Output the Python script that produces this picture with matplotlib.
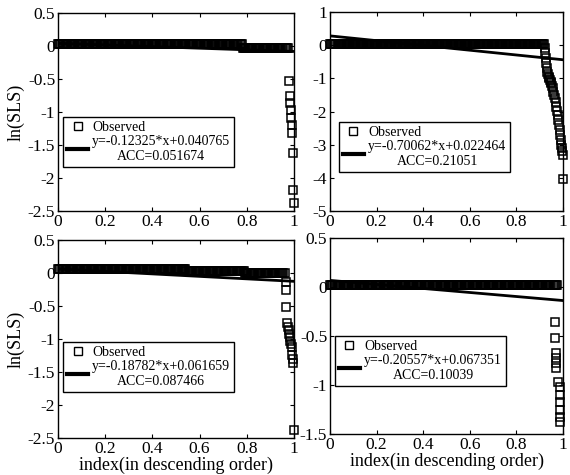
import numpy as np
import matplotlib
matplotlib.use("Agg")
import matplotlib.pyplot as plt
from matplotlib.lines import Line2D
from matplotlib.ticker import FormatStrFormatter

plt.rcParams['font.family'] = ['Liberation Serif', 'DejaVu Serif']
plt.rcParams['axes.unicode_minus'] = False

# ---------------- data ----------------
# top-left panel
tl_band = [0.03] * 160 + [-0.03] * 40
tl_band_end = 0.975
tl_tail_x = [0.978, 0.982, 0.984, 0.986, 0.988, 0.990, 0.992, 0.995, 0.996, 0.999]
tl_tail_y = [-0.53, -0.76, -0.86, -0.97, -1.09, -1.20, -1.32, -1.62, -2.18, -2.38]
tl_fit = (-0.12325, 0.040765)
tl_label = "y=-0.12325*x+0.040765\nACC=0.051674"

# top-right panel
tr_band = [0.05] * 200
tr_band_end = 0.92
tr_tail_x = [0.922, 0.924, 0.926, 0.928, 0.930, 0.932, 0.935, 0.938, 0.941, 0.944,
             0.947, 0.950, 0.953, 0.956, 0.959, 0.962, 0.965, 0.968, 0.971, 0.974,
             0.977, 0.980, 0.983, 0.986, 0.988, 0.990, 0.992, 0.994, 0.996, 0.998, 1.0]
tr_tail_y = [-0.10, -0.25, -0.40, -0.55, -0.68, -0.80, -0.88, -0.95, -1.00, -1.05,
             -1.10, -1.15, -1.22, -1.30, -1.40, -1.50, -1.60, -1.72, -1.85, -1.98,
             -2.10, -2.25, -2.40, -2.55, -2.70, -2.85, -3.00, -3.10, -3.20, -3.30, -4.05]
tr_line_ends = (0.28, -0.44)
tr_label = "y=-0.70062*x+0.022464\nACC=0.21051"

# bottom-left panel
bl_band = [0.06] * 110 + [0.03] * 50 + [0.0] * 35
bl_band_end = 0.96
bl_tail_x = [0.965, 0.966, 0.967, 0.972, 0.975, 0.978, 0.980, 0.982, 0.985, 0.987,
             0.990, 0.993, 0.995, 0.997, 0.998]
bl_tail_y = [-0.14, -0.26, -0.51, -0.76, -0.82, -0.87, -0.92, -0.97, -1.03, -1.08,
             -1.12, -1.24, -1.30, -1.36, -2.38]
bl_fit = (-0.18782, 0.061659)
bl_label = "y=-0.18782*x+0.061659\nACC=0.087466"

# bottom-right panel
br_band = [0.02] * 200
br_band_end = 0.975
br_tail_x = [0.967, 0.967, 0.970, 0.970, 0.970, 0.970, 0.980, 0.987, 0.987, 0.987,
             0.987, 0.987, 0.987]
br_tail_y = [-0.36, -0.52, -0.67, -0.72, -0.78, -0.83, -0.97, -1.02, -1.10, -1.17,
             -1.26, -1.33, -1.38]
br_fit = (-0.20557, 0.067351)
br_label = "y=-0.20557*x+0.067351\nACC=0.10039"

x_ticks = [0, 0.2, 0.4, 0.6, 0.8, 1]

# ---------------- figure ----------------
W, H = 570, 475
fig = plt.figure(figsize=(W / 100, H / 100), dpi=100)


def px_axes(left, top, right, bottom):
    return fig.add_axes([left / W, 1 - bottom / H, (right - left) / W, (bottom - top) / H])


def panel(ax, band, band_end, tail_x, tail_y, line_y, label, ylim, yticks, leg_pos, xlabel):
    bx = np.linspace(0, band_end, len(band))
    ox = np.concatenate([bx, tail_x])
    oy = np.concatenate([band, tail_y])
    ax.plot(ox, oy, linestyle='none', marker='s', markersize=5.6,
            markerfacecolor='none', markeredgecolor='black', markeredgewidth=1.1,
            clip_on=False, zorder=2)
    ax.plot([0, 1], line_y, color='black', lw=2.0, zorder=3)
    ax.set_xlim(0, 1)
    ax.set_ylim(*ylim)
    ax.set_xticks(x_ticks)
    ax.set_yticks(yticks)
    ax.xaxis.set_major_formatter(FormatStrFormatter('%g'))
    ax.yaxis.set_major_formatter(FormatStrFormatter('%g'))
    ax.tick_params(direction='in', length=3, width=0.8, labelsize=12.5,
                   top=True, right=True, pad=2)
    for s in ax.spines.values():
        s.set_linewidth(1.0)
    h1 = Line2D([], [], linestyle='none', marker='s', markersize=6,
                markerfacecolor='none', markeredgecolor='black', markeredgewidth=1.0)
    h2 = Line2D([], [], color='black', lw=3)
    leg = ax.legend([h1, h2], ['Observed', label], loc='upper left',
                    bbox_to_anchor=leg_pos, borderaxespad=0, fontsize=10,
                    frameon=True, fancybox=False, edgecolor='black', framealpha=1,
                    handlelength=1.5, handletextpad=0.3, borderpad=0.3,
                    labelspacing=0.05)
    leg.get_frame().set_linewidth(1.0)
    for t in leg.get_texts():
        t.set_multialignment('center')
    if xlabel:
        ax.set_xlabel('index(in descending order)', fontsize=13, labelpad=0)


ax1 = px_axes(58, 13, 294, 211)
ax2 = px_axes(330, 12, 563, 211)
ax3 = px_axes(58, 240, 294, 438)
ax4 = px_axes(330, 238, 563, 434)

panel(ax1, tl_band, tl_band_end, tl_tail_x, tl_tail_y,
      [tl_fit[1], tl_fit[0] + tl_fit[1]], tl_label,
      (-2.5, 0.5), np.arange(-2.5, 0.51, 0.5), (0.021, 0.475), False)
panel(ax2, tr_band, tr_band_end, tr_tail_x, tr_tail_y,
      list(tr_line_ends), tr_label,
      (-5, 1), np.arange(-5, 1.1, 1), (0.038, 0.447), False)
panel(ax3, bl_band, bl_band_end, bl_tail_x, bl_tail_y,
      [bl_fit[1], bl_fit[0] + bl_fit[1]], bl_label,
      (-2.5, 0.5), np.arange(-2.5, 0.51, 0.5), (0.021, 0.485), True)
panel(ax4, br_band, br_band_end, br_tail_x, br_tail_y,
      [br_fit[1], br_fit[0] + br_fit[1]], br_label,
      (-1.5, 0.5), np.arange(-1.5, 0.51, 0.5), (0.021, 0.5), True)

for ax in (ax1, ax3):
    ax.set_ylabel('ln(SLS)', fontsize=13, labelpad=2)

fig.savefig('out.png', dpi=100)
